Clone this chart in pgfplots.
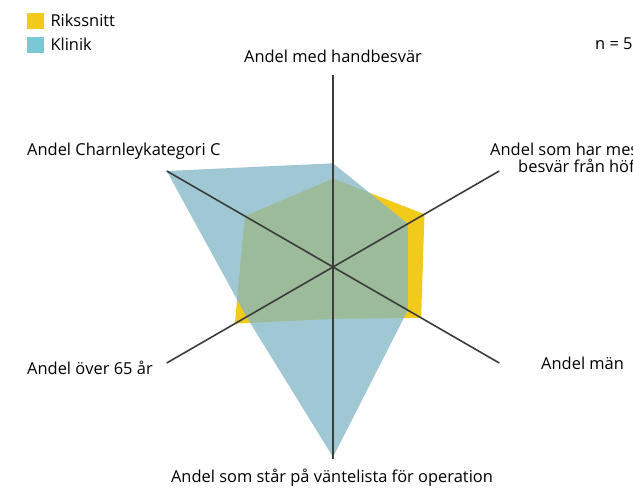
\documentclass[border=0pt]{standalone}
\usepackage{fontspec}
\setmainfont{Open Sans}
\usepackage{pgfplots}
\pgfplotsset{compat=1.18}
\usepgfplotslibrary{polar}

\definecolor{rikscol}{RGB}{242,202,26}
\definecolor{klinikfill}{RGB}{128,182,198}
\definecolor{klinikcol}{RGB}{120,200,215}
\definecolor{spoke}{RGB}{60,60,60}

\begin{document}
\begin{tikzpicture}[x=1bp,y=1bp,font=\fontsize{16.5}{20}\selectfont]
  \path[use as bounding box] (0,0) rectangle (633,491);
  \clip (0,0) rectangle (633,491);

  \begin{polaraxis}[
      at={(333bp,224bp)}, anchor=center,
      width=384bp, height=384bp, scale only axis,
      ymin=0, ymax=100,
      hide axis,
      legend style={at={(axis description cs:-0.297,1.162)}, anchor=north west,
        draw=none, fill=none, inner sep=0pt, row sep=9bp,
        nodes={inner sep=0pt}, cells={anchor=west},
        /tikz/every odd column/.append style={column sep=7bp}},
      legend image code/.code={\fill[#1] (0bp,-7.5bp) rectangle (16bp,7.5bp);},
    ]
    % Rikssnitt
    \addplot[draw=none, fill=rikscol, forget plot] coordinates {
      (90,46) (30,55) (330,53) (270,27) (210,59) (150,53) (90,46)};
    % Klinik
    \addplot[draw=none, fill=klinikfill, fill opacity=0.75, forget plot] coordinates {
      (90,54) (30,45) (330,45) (270,99) (210,52) (150,100) (90,54)};
    % spokes
    \addplot[spoke, line width=1.6bp, forget plot] coordinates {(90,100) (270,100)};
    \addplot[spoke, line width=1.6bp, forget plot] coordinates {(30,100) (210,100)};
    \addplot[spoke, line width=1.6bp, forget plot] coordinates {(150,100) (330,100)};

    \addlegendimage{rikscol}
    \addlegendentry{Rikssnitt}
    \addlegendimage{klinikcol}
    \addlegendentry{Klinik}
  \end{polaraxis}

  \node[anchor=mid] at (333,431) {Andel med handbesvär};
  \node[anchor=mid west, inner sep=0pt] at (27,338) {Andel Charnleykategori C};
  \node[anchor=mid west, inner sep=0pt] at (490,338) {Andel som har mest};
  \node[anchor=mid west, inner sep=0pt] at (518,321) {besvär från höften};
  \node[anchor=mid west, inner sep=0pt] at (541,124) {Andel män};
  \node[anchor=mid west, inner sep=0pt] at (27,119) {Andel över 65 år};
  \node[anchor=mid] at (332,11) {Andel som står på väntelista för operation};
  \node[anchor=mid west, inner sep=0pt] at (595,444) {n = 59};
\end{tikzpicture}
\end{document}
